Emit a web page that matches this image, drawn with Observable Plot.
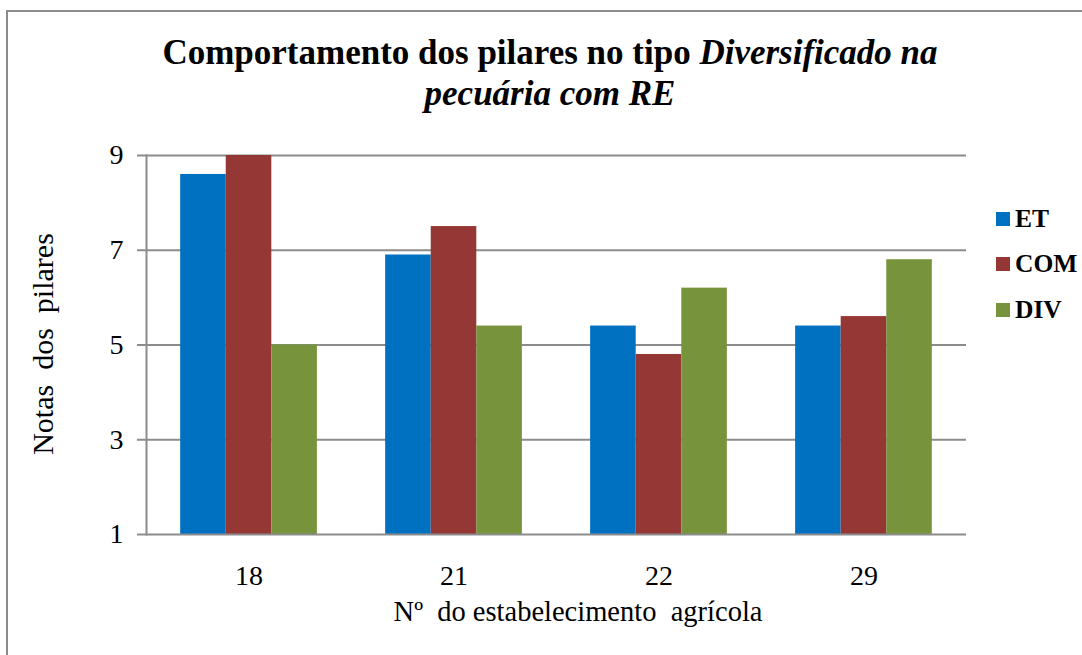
<!DOCTYPE html>
<html>
<head>
<meta charset="utf-8">
<script src="https://cdn.jsdelivr.net/npm/d3@7"></script>
<script src="https://cdn.jsdelivr.net/npm/@observablehq/plot@0.6"></script>
<style>
  html, body { margin: 0; padding: 0; background: #fff; }
  #wrap { position: relative; width: 1082px; height: 655px; overflow: hidden; font-family: "Liberation Serif", "Times New Roman", serif; color: #000; }
  #border { position: absolute; left: 6px; top: 10px; width: 1100px; height: 700px; border-left: 2px solid #8c8c8c; border-top: 2px solid #8c8c8c; }
  #title { position: absolute; left: 50px; width: 1000px; top: 32px; text-align: center; font-weight: bold; font-size: 35px; line-height: 41px; }
  .layer { position: absolute; left: 0; top: 130px; }
  .layer svg { background: transparent !important; }
  #ylabel { position: absolute; left: 43px; top: 344px; transform: translate(-50%, -50%) rotate(-90deg); font-size: 30px; white-space: pre; line-height: 30px; }
  #xlabel { position: absolute; left: 578px; top: 597px; transform: translateX(-50%); font-size: 28.5px; white-space: pre; line-height: 30px; }
  #legend { position: absolute; left: 996px; top: 196px; white-space: nowrap; }
  .item { display: flex; align-items: center; height: 45.5px; font-weight: bold; font-size: 25.5px; }
  .sw { width: 14px; height: 14px; margin-right: 5px; flex: none; }
</style>
</head>
<body>
<div id="wrap">
  <div id="border"></div>
  <div id="title">Comportamento dos pilares no tipo <i>Diversificado na<br>pecuária com RE</i></div>
  <div id="back" class="layer"></div>
  <div id="bars" class="layer"></div>
  <div id="front" class="layer"></div>
  <div id="ylabel">Notas  dos  pilares</div>
  <div id="xlabel">Nº  do estabelecimento  agrícola</div>
  <div id="legend"></div>
</div>
<script>
const groups = ["18", "21", "22", "29"];
const series = ["ET", "COM", "DIV"];
const etValues = [8.6, 6.9, 5.4, 5.4];
const comValues = [9.0, 7.5, 4.8, 5.6];
const divValues = [5.0, 5.4, 6.2, 6.8];
const seriesColors = ["#0070C0", "#953735", "#77933C"];
const yTicks = [1, 3, 5, 7, 9];
const gridTicks = [3, 5, 7, 9];

const valuesBySeries = {ET: etValues, COM: comValues, DIV: divValues};
const data = groups.flatMap((g, i) => series.map(s => ({group: g, series: s, value: valuesBySeries[s][i]})));

const gridColor = "#8c8c8c";
const font = "'Liberation Serif', 'Times New Roman', serif";
const common = {
  width: 1082,
  height: 525,
  marginLeft: 146,
  marginRight: 116,
  marginTop: 25,
  marginBottom: 121,
  style: {fontFamily: font, color: "#000", background: "transparent"},
  y: {domain: [1, 9], label: null}
};
const bandOpts = {domain: groups, paddingInner: 0.333, paddingOuter: 0.1667, round: false, label: null};

// Layer 1: gridlines, y axis, category labels
const back = Plot.plot({
  ...common,
  x: bandOpts,
  marks: [
    Plot.ruleY(gridTicks, {stroke: gridColor, strokeWidth: 2}),
    Plot.axisY({ticks: yTicks, tickSize: 9, tickPadding: 14, fontSize: 28, stroke: gridColor, strokeWidth: 2, strokeOpacity: 1, label: null}),
    Plot.axisX({anchor: "bottom", tickSize: 0, tickPadding: 31, fontSize: 28, label: null})
  ]
});
document.getElementById("back").appendChild(back);

// Layer 2: grouped bars
const bars = Plot.plot({
  ...common,
  fx: {...bandOpts, axis: null},
  x: {domain: series, padding: 0, round: false, axis: null},
  y: {domain: [1, 9], axis: null},
  color: {domain: series, range: seriesColors},
  marks: [
    Plot.barY(data, {fx: "group", x: "series", y1: 1, y2: "value", fill: "series", inset: 0})
  ]
});
document.getElementById("bars").appendChild(bars);

// Layer 3: axis lines drawn over the bars
const front = Plot.plot({
  ...common,
  x: {...bandOpts, axis: null},
  y: {domain: [1, 9], axis: null},
  marks: [
    Plot.ruleY([1], {stroke: gridColor, strokeWidth: 2}),
    Plot.frame({anchor: "left", stroke: gridColor, strokeWidth: 2})
  ]
});
document.getElementById("front").appendChild(front);

const legend = document.getElementById("legend");
series.forEach((s, i) => {
  const row = document.createElement("div");
  row.className = "item";
  const sw = document.createElement("span");
  sw.className = "sw";
  sw.style.background = seriesColors[i];
  row.appendChild(sw);
  row.appendChild(document.createTextNode(s));
  legend.appendChild(row);
});
</script>
</body>
</html>
